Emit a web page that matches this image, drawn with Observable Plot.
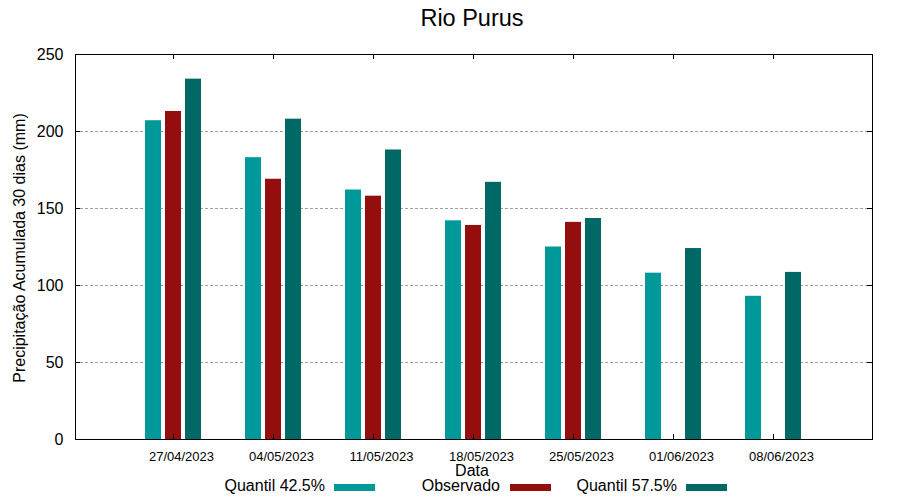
<!DOCTYPE html>
<html>
<head>
<meta charset="utf-8">
<script src="https://cdn.jsdelivr.net/npm/d3@7"></script>
<script src="https://cdn.jsdelivr.net/npm/@observablehq/plot@0.6"></script>
<style>
  html, body { margin: 0; padding: 0; background: #fff; }
  #wrap { position: relative; width: 900px; height: 500px; font-family: "Liberation Sans", Arial, sans-serif; color: #000; }
  #wrap .abs { position: absolute; white-space: nowrap; line-height: 16px; }
  .sw { position: absolute; width: 41px; height: 7px; }
</style>
</head>
<body>
<div id="wrap"></div>
<script>
// ---- data ----
const dates = ["27/04/2023", "04/05/2023", "11/05/2023", "18/05/2023", "25/05/2023", "01/06/2023", "08/06/2023"];
const seriesNames = ["Quantil 42.5%", "Observado", "Quantil 57.5%"];
const q425 = [207, 183, 162, 142, 125, 108, 93];
const observado = [213, 169, 158, 139, 141, null, null];
const q575 = [234, 208, 188, 167, 143.5, 124, 108.5];
const seriesColors = ["#009999", "#940e0e", "#006865"];
const yTicks = [0, 50, 100, 150, 200, 250];
const yGrid = [50, 100, 150, 200];

// ---- layout ----
const W = 900, H = 500;
const mL = 75, mR = 28, mT = 54, mB = 61;
const fw = W - mL - mR, fh = H - mT - mB;
const tickLen = 5;

const seriesValues = [q425, observado, q575];
const table = [];
dates.forEach((d, i) => {
  seriesValues.forEach((vals, s) => {
    const v = vals[i];
    if (v != null) {
      const c = i + (s - 1) * 0.2;
      table.push({date: d, series: seriesNames[s], value: v, x1: c - 0.08, x2: c + 0.08});
    }
  });
});
const idx = dates.map((d, i) => i);

const chart = Plot.plot({
  width: W,
  height: H,
  marginLeft: mL,
  marginRight: mR,
  marginTop: mT,
  marginBottom: mB,
  style: {fontFamily: "'Liberation Sans', Arial, sans-serif", background: "#fff", color: "#000"},
  x: {type: "linear", domain: [-0.98, 6.99], axis: null},
  y: {domain: [0, 250], axis: null},
  color: {domain: seriesNames, range: seriesColors},
  marks: [
    Plot.ruleY(yGrid, {stroke: "#a0a0a0", strokeWidth: 1, strokeDasharray: "3,2"}),
    Plot.rect(table, {x1: "x1", x2: "x2", y1: 0, y2: "value", fill: "series"}),
    // inward tick marks: left, right, bottom, top
    Plot.tickY(yGrid, {stroke: "#000", insetRight: fw - tickLen}),
    Plot.tickY(yGrid, {stroke: "#000", insetLeft: fw - tickLen}),
    Plot.tickX(idx, {stroke: "#000", insetTop: fh - tickLen}),
    Plot.tickX(idx, {stroke: "#000", insetBottom: fh - tickLen}),
    Plot.frame({stroke: "#000", strokeWidth: 1}),
    // tick labels
    Plot.text(yTicks, {y: d => d, text: d => String(d), frameAnchor: "left", dx: -12, textAnchor: "end", fontSize: 16, fill: "#000"}),
    Plot.text(idx, {x: d => d, text: d => dates[d], frameAnchor: "bottom", dy: 21, dx: 8, fontSize: 13, fill: "#000"})
  ]
});

const wrap = document.getElementById("wrap");
chart.style.position = "absolute";
chart.style.left = "0px";
chart.style.top = "0px";
wrap.appendChild(chart);

function addText(txt, css) {
  const el = document.createElement("div");
  el.className = "abs";
  el.textContent = txt;
  Object.assign(el.style, css);
  wrap.appendChild(el);
  return el;
}

// title
addText("Rio Purus", {left: "0px", width: "944px", textAlign: "center", top: "6px", fontSize: "23.5px", lineHeight: "24px"});
// y label (rotated)
addText("Precipitação Acumulada 30 dias (mm)", {left: "20px", top: "248px", fontSize: "16px", transform: "translate(-50%, -50%) rotate(-90deg)", transformOrigin: "center"});
// x label
addText("Data", {left: "372px", width: "200px", textAlign: "center", top: "463px", fontSize: "16px"});

// legend
const legendItems = [
  {right: 325, sw: 334},
  {right: 500, sw: 510},
  {right: 677, sw: 686}
];
seriesNames.forEach((name, s) => {
  const it = legendItems[s];
  addText(name, {left: (it.right - 300) + "px", width: "300px", textAlign: "right", top: "479px", fontSize: "16px", lineHeight: "14px"});
  const sw = document.createElement("div");
  sw.className = "sw";
  sw.style.left = it.sw + "px";
  sw.style.top = "484px";
  sw.style.background = seriesColors[s];
  wrap.appendChild(sw);
});
</script>
</body>
</html>
